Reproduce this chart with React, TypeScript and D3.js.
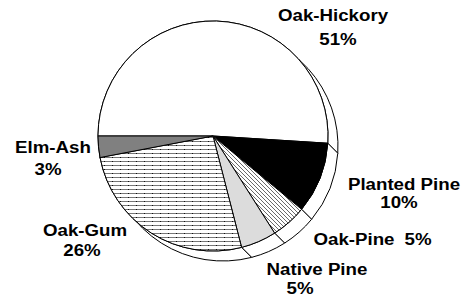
import React from "react";
import * as d3 from "d3";

const categories = ["Oak-Hickory", "Planted Pine", "Oak-Pine", "Native Pine", "Oak-Gum", "Elm-Ash"];
const values = [51, 10, 5, 5, 26, 3];
const fills = ["#ffffff", "#000000", "url(#hatchDiag)", "#dcdcdc", "url(#hatchHoriz)", "#808080"];

// label placement (name line, percent line)
const labelName = [
  { x: 333, y: 21 },
  { x: 404, y: 190 },
  { x: 354, y: 245 },
  { x: 317, y: 275 },
  { x: 85, y: 236 },
  { x: 53, y: 153 },
];
const labelPct = [
  { x: 338, y: 45 },
  { x: 399, y: 208 },
  { x: 418, y: 245 },
  { x: 300, y: 294 },
  { x: 82, y: 256 },
  { x: 48, y: 175 },
];

const W = 462;
const H = 301;
const cx = 213;
const cy = 136;
const R = 115;
const DX = 10;
const DY = 10;

export default function App() {
  const pie = d3
    .pie<number>()
    .sort(null)
    .startAngle(-Math.PI / 2)
    .endAngle((3 * Math.PI) / 2)
    .value((d) => d);
  const arcs = pie(values);
  const arcGen = d3.arc<d3.PieArcDatum<number>>().innerRadius(0).outerRadius(R);

  const pt = (a: number, ox = 0, oy = 0) => [cx + ox + R * Math.sin(a), cy + oy - R * Math.cos(a)];

  const sidePath = (a0: number, a1: number) => {
    const large = a1 - a0 > Math.PI ? 1 : 0;
    const p0 = pt(a0);
    const p1 = pt(a1);
    const q1 = pt(a1, DX, DY);
    const q0 = pt(a0, DX, DY);
    return `M${p0[0]},${p0[1]} A${R},${R} 0 ${large} 1 ${p1[0]},${p1[1]} L${q1[0]},${q1[1]} A${R},${R} 0 ${large} 0 ${q0[0]},${q0[1]} Z`;
  };

  const textStyle: React.CSSProperties = {
    fontFamily: "'Liberation Sans', Arial, Helvetica, sans-serif",
    fontWeight: "bold",
    fontSize: 17,
  };

  return (
    <svg width={W} height={H} style={{ position: "absolute", left: 0, top: 0 }}>
      <defs>
        <pattern id="hatchDiag" patternUnits="userSpaceOnUse" width={4} height={4}>
          <rect width={4} height={4} fill="#fff" />
          <path d="M-1,-1 L5,5 M-1,3 L1,5 M3,-1 L5,1" stroke="#444" strokeWidth={0.8} />
        </pattern>
        <pattern id="hatchHoriz" patternUnits="userSpaceOnUse" width={8} height={4}>
          <rect width={8} height={4} fill="#fff" />
          <rect x={0} y={1} width={8} height={1} fill="#777" />
          <rect x={3} y={1} width={1} height={1} fill="#111" />
        </pattern>
      </defs>
      <rect width={W} height={H} fill="#fff" />
      {arcs.map((a, i) => (
        <path
          key={"side" + i}
          d={sidePath(a.startAngle, a.endAngle)}
          fill="#fff"
          stroke="#000"
          strokeWidth={1}
          strokeLinejoin="round"
        />
      ))}
      <g transform={`translate(${cx},${cy})`}>
        {arcs.map((a, i) => (
          <path key={"top" + i} d={arcGen(a) || ""} fill={fills[i]} stroke="#000" strokeWidth={1} strokeLinejoin="round" />
        ))}
      </g>
      {categories.map((c, i) => (
        <g key={"lab" + i} style={textStyle}>
          <text transform={`translate(${labelName[i].x},${labelName[i].y}) scale(1.1,1)`} textAnchor="middle" fill="#000">
            {c}
          </text>
          <text transform={`translate(${labelPct[i].x},${labelPct[i].y}) scale(1.1,1)`} textAnchor="middle" fill="#000">
            {values[i] + "%"}
          </text>
        </g>
      ))}
    </svg>
  );
}
